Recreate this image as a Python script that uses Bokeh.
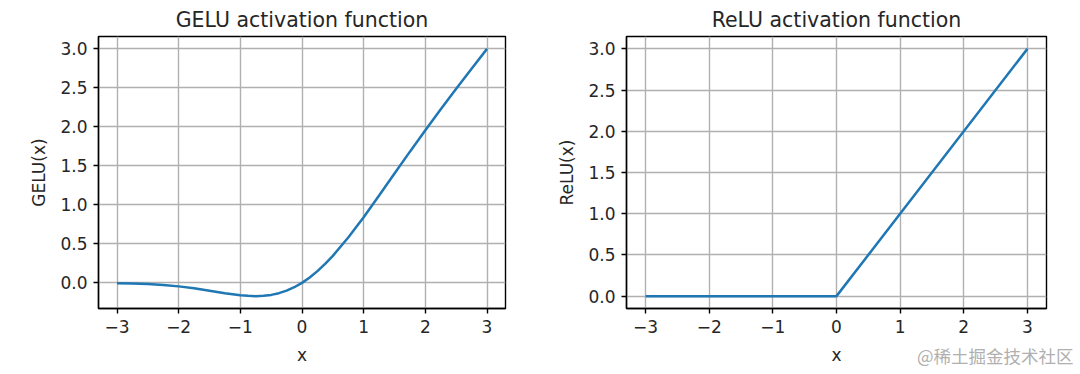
from bokeh.plotting import figure
from bokeh.layouts import row
from bokeh.models import Range1d, FixedTicker, Title
from bokeh.embed import file_html
from bokeh.resources import INLINE

# ---- data ----
gelu_x = [-3.0, -2.75, -2.5, -2.25, -2.0, -1.75, -1.5, -1.25, -1.0, -0.875, -0.75,
          -0.625, -0.5, -0.375, -0.25, -0.125, 0.0, 0.125, 0.25, 0.375, 0.5, 0.75,
          1.0, 1.25, 1.5, 1.75, 2.0, 2.25, 2.5, 2.75, 3.0]
gelu_y = [-0.004, -0.008, -0.015, -0.027, -0.045, -0.070, -0.100, -0.132, -0.159, -0.166, -0.170,
          -0.166, -0.154, -0.132, -0.100, -0.056, 0.0, 0.069, 0.150, 0.243, 0.346, 0.580,
          0.841, 1.118, 1.400, 1.680, 1.955, 2.223, 2.485, 2.742, 2.996]
relu_x = [-3.0, 0.0, 3.0]
relu_y = [0.0, 0.0, 3.0]

x_ticks = [-3, -2, -1, 0, 1, 2, 3]
x_tick_labels = ["\u22123", "\u22122", "\u22121", "0", "1", "2", "3"]
y_ticks = [0.0, 0.5, 1.0, 1.5, 2.0, 2.5, 3.0]
y_tick_labels = ["0.0", "0.5", "1.0", "1.5", "2.0", "2.5", "3.0"]

titles = ["GELU activation function", "ReLU activation function"]
y_labels = ["GELU(x)", "ReLU(x)"]
x_label = "x"
watermark = "@稀土掘金技术社区"

FONT = "DejaVu Sans"
TXT = "#262626"
LINE = "#1f77b4"


def padded(vals):
    lo, hi = min(vals), max(vals)
    m = (hi - lo) * 0.05
    return lo - m, hi + m


def make_fig(title, xs, ys, ylabel, bl, br):
    x0, x1 = padded(xs)
    y0, y1 = padded(ys)
    p = figure(width=540, height=374, output_backend="svg", toolbar_location=None,
               x_range=Range1d(x0, x1), y_range=Range1d(y0, y1),
               min_border_left=bl, min_border_right=br, min_border_top=36,
               min_border_bottom=66, background_fill_color="white",
               border_fill_color="white")
    p.title.text = title
    p.title.text_font = FONT
    p.title.text_font_size = "20.5px"
    p.title.text_font_style = "normal"
    p.title.text_color = TXT
    p.title.align = "center"
    p.title.standoff = 9
    p.outline_line_color = "black"
    p.outline_line_width = 1.4

    p.xaxis.ticker = FixedTicker(ticks=x_ticks)
    p.xaxis.major_label_overrides = {t: l for t, l in zip(x_ticks, x_tick_labels)}
    p.yaxis.ticker = FixedTicker(ticks=y_ticks)
    p.yaxis.major_label_overrides = {t: l for t, l in zip(y_ticks, y_tick_labels)}
    p.xaxis.axis_label = x_label
    p.yaxis.axis_label = ylabel
    for ax in (p.xaxis, p.yaxis):
        ax.axis_label_text_font = FONT
        ax.axis_label_text_font_size = "17px"
        ax.axis_label_text_font_style = "normal"
        ax.axis_label_text_color = TXT
        ax.major_label_text_font = FONT
        ax.major_label_text_font_size = "17px"
        ax.major_label_text_color = TXT
        ax.major_tick_in = 0
        ax.major_tick_out = 5
        ax.major_tick_line_color = "black"
        ax.major_tick_line_width = 1.4
        ax.minor_tick_line_color = None
        ax.axis_line_color = "black"
        ax.axis_line_width = 1.4
        ax.major_label_standoff = 6
    p.xaxis.axis_label_standoff = 9
    p.yaxis.axis_label_standoff = 8
    for g in (p.xgrid, p.ygrid):
        g.grid_line_color = "#b0b0b0"
        g.grid_line_width = 1.4
    p.line(xs, ys, line_color=LINE, line_width=2.5)
    return p


p1 = make_fig(titles[0], gelu_x, gelu_y, y_labels[0], 98, 35)
p2 = make_fig(titles[1], relu_x, relu_y, y_labels[1], 86, 34)

# watermark: a right-aligned title under the right plot, pulled up next to the x label
wm = Title(text=watermark, align="right", vertical_align="top",
           text_font="Noto Sans CJK SC", text_font_size="17.5px",
           text_font_style="normal", text_color="#b0b0b0", offset=-27)
try:
    wm.standoff = -50
except Exception:
    wm.standoff = 0
p2.add_layout(wm, "below")

layout = row(p1, p2)
open("out.html", "w").write(file_html(layout, INLINE))
